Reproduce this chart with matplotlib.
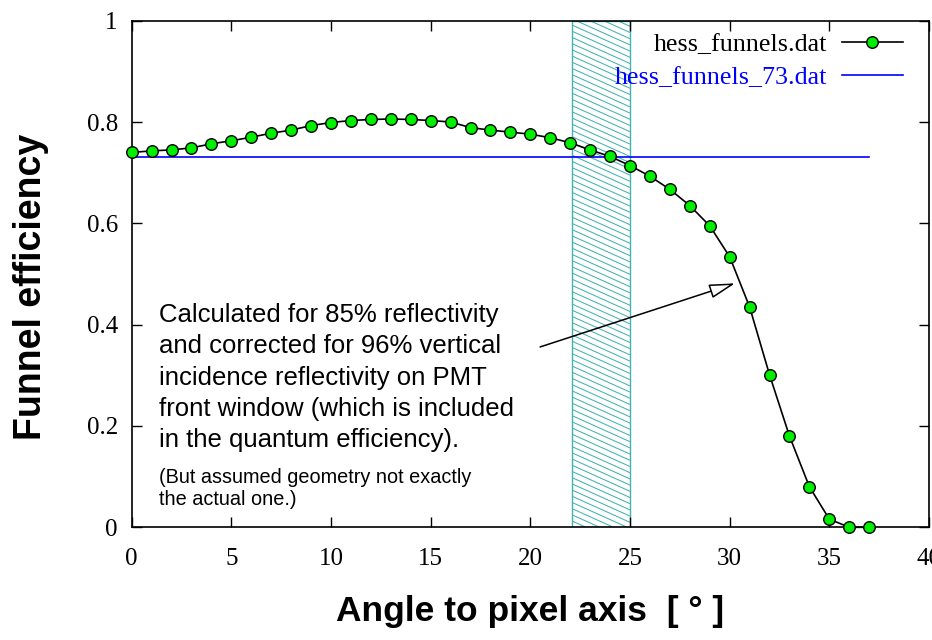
import numpy as np
import matplotlib
matplotlib.use("Agg")
import matplotlib.pyplot as plt
from matplotlib.patches import Rectangle
from matplotlib.collections import LineCollection

# funnel efficiency vs. angle of incidence (hess_funnels.dat)
angle = np.arange(0, 38)
eff = [0.740, 0.743, 0.745, 0.749, 0.757, 0.763, 0.770, 0.778, 0.784, 0.793,
       0.799, 0.803, 0.805, 0.806, 0.805, 0.803, 0.800, 0.789, 0.784, 0.780,
       0.776, 0.769, 0.759, 0.745, 0.732, 0.714, 0.693, 0.667, 0.635, 0.595,
       0.534, 0.435, 0.301, 0.180, 0.080, 0.016, 0.000, 0.000]

# flat efficiency (hess_funnels_73.dat)
angle73 = [0, 37]
eff73 = [0.73, 0.73]

# shaded angular range
band = (22.1, 25.0)

xticks = [0, 5, 10, 15, 20, 25, 30, 35, 40]
yticks = [0, 0.2, 0.4, 0.6, 0.8, 1]
ytick_labels = ["0", "0.2", "0.4", "0.6", "0.8", "1"]

note_lines = ["Calculated for 85% reflectivity",
              "and corrected for 96% vertical",
              "incidence reflectivity on PMT",
              "front window (which is included",
              "in the quantum efficiency)."]
small_lines = ["(But assumed geometry not exactly",
               "the actual one.)"]

serif = "Liberation Serif"
sans = "Liberation Sans"
teal = "#45b2b2"

W, H = 932, 640
x0, x1, y0, y1 = 131.7, 929.0, 527.3, 20.7   # frame in pixels

fig = plt.figure(figsize=(W/100, H/100), dpi=100)
ax = fig.add_axes([x0/W, 1 - y0/H, (x1 - x0)/W, (y0 - y1)/H])
ax.set_xlim(0, 40)
ax.set_ylim(0, 1)

# hatched band: thin shallow diagonal lines clipped to the rectangle
rect = Rectangle((band[0], 0), band[1] - band[0], 1, fc="none", ec=teal,
                 lw=1.0, zorder=1)
ax.add_patch(rect)
px_x = (x1 - x0) / 40.0
px_y = (y0 - y1) / 1.0
slope = 0.45 * px_x / px_y         # drop in data-y per data-x
step = 6.2 / px_y                  # vertical spacing of hatch lines
drop = slope * (band[1] - band[0])
segs = [[(band[0], s), (band[1], s - drop)]
        for s in np.arange(0, 1 + drop + step, step)]
hatch = LineCollection(segs, colors=teal, linewidths=0.75, zorder=1)
hatch.set_clip_path(rect)
ax.add_collection(hatch)

l1, = ax.plot(angle, eff, color="black", lw=1.2, marker="o", ms=8.3,
              mfc="#00ee00", mec="black", mew=1.0, clip_on=False, zorder=4,
              label="hess_funnels.dat")
l2, = ax.plot(angle73, eff73, color="blue", lw=1.2, zorder=3,
              label="hess_funnels_73.dat")

ax.set_xticks(xticks)
ax.set_yticks(yticks)
ax.set_yticklabels(ytick_labels)
ax.tick_params(direction="in", length=7, width=1.0, top=True, right=True,
               labelsize=18)
ax.tick_params(axis="x", pad=15)
ax.tick_params(axis="y", pad=10)
for lab in ax.get_xticklabels() + ax.get_yticklabels():
    lab.set_family(serif)
for sp in ax.spines.values():
    sp.set_linewidth(1.2)

leg = ax.legend(handles=[l1, l2], loc="upper right", frameon=False,
                markerfirst=False, prop={"family": serif, "size": 18.7},
                handlelength=2.35, handletextpad=0.58, labelspacing=0.37,
                borderaxespad=0, borderpad=0,
                bbox_to_anchor=((903 - x0)/(x1 - x0), (y0 - 33)/(y0 - y1)))
leg.get_texts()[1].set_color("blue")

# explanatory note with arrow onto the curve
for i, line in enumerate(note_lines):
    ax.text(1.38, 0.405 - i*0.0618, line, family=sans, fontsize=18.5,
            va="baseline", ha="left", zorder=5)
for i, line in enumerate(small_lines):
    ax.text(1.38, 0.0875 - i*0.0434, line, family=sans, fontsize=14.3,
            va="baseline", ha="left", zorder=5)

ax.annotate("", xy=(30.27, 0.4816), xytext=(20.49, 0.356),
            arrowprops=dict(arrowstyle="-|>,head_length=0.8,head_width=0.22",
                            mutation_scale=20, fc="white", ec="black", lw=1.1,
                            shrinkA=0, shrinkB=0), zorder=5)

fig.text(530/W, 1 - 612/H, "Angle to pixel axis  [ \u00b0 ]", family=sans,
         weight="bold", fontsize=25.5, ha="center", va="center")
fig.text(31/W, 1 - 287/H, "Funnel efficiency", family=sans,
         weight="bold", fontsize=27, ha="center", va="center", rotation=90)

fig.savefig("out.png", dpi=100)
